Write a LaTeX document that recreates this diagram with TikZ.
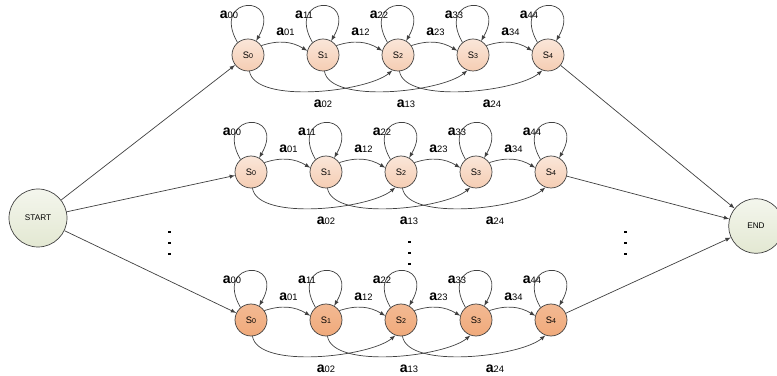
\documentclass[tikz,border=0pt]{standalone}
\usepackage{fontspec}
\setmainfont{Liberation Sans}
\usetikzlibrary{calc}

\definecolor{stpale}{HTML}{F5CDB3}
\definecolor{stdeep}{HTML}{F0AA7B}
\definecolor{endfill}{HTML}{E3E8D2}
\definecolor{edgegray}{HTML}{404040}

\newcommand{\trans}[1]{{\fontsize{12}{12}\selectfont\bfseries a}{\fontsize{8}{8}\selectfont #1}}
\newcommand{\stname}[1]{S{\fontsize{6}{6}\selectfont #1}}

\begin{document}
\begin{tikzpicture}[x=0.03cm,y=0.03cm,>=latex,line width=0.6pt,
  state/.style={circle,draw=edgegray,minimum size=0.96cm,inner sep=0pt,font=\fontsize{8}{8}\selectfont},
  term/.style={circle,draw=edgegray,inner sep=0pt,top color=endfill!40!white,bottom color=endfill,font=\fontsize{7}{7}\selectfont},
  lbl/.style={inner sep=0pt},
  link/.style={draw=edgegray,->}]
  \useasboundingbox (0,0) rectangle (777,-376);

  \node[term,minimum size=1.74cm] (start) at (38,-218) {START};
  \node[term,minimum size=1.64cm] (end) at (756,-226) {END};

  % one chain per row
  \foreach \r/\y/\dx/\c/\t in {1/55/0/stpale/50, 2/172/3/stpale/50, 3/320/3/stdeep/82} {
    \foreach \i in {0,...,4} {
      \node[state,top color=\c!\t!white,bottom color=\c] (s\r\i) at ({248+\dx+75*\i},-\y) {\stname{\i}};
      \draw[link] (s\r\i.130) .. controls +(120:55) and +(60:55) .. (s\r\i.60);
      \node[lbl] (l\r\i\i) at ($(s\r\i)+(-19,40)$) {\trans{\i\i}};
    }
    \foreach \i [evaluate=\i as \j using int(\i+1)] in {0,...,3} {
      \draw[link] (s\r\i.35) to[bend left=25] (s\r\j.165);
      \node[lbl] (l\r\i\j) at ($(s\r\i)!0.5!(s\r\j)+(0,23)$) {\trans{\i\j}};
    }
    \foreach \i/\sh [evaluate=\i as \j using int(\i+2)] in {0/0,1/8,2/19} {
      \draw[link] (s\r\i.-85) to[out=-80,in=-140,looseness=0.6] (s\r\j.-110);
      \node[lbl] (l\r\i\j) at ($(s\r\i)!0.5!(s\r\j)+(\sh,-49)$) {\trans{\i\j}};
    }
    \draw[link] (start) -- (s\r0);
    \draw[link] (s\r4) -- (end);
  }

  % vertical dots
  \foreach \x/\y in {168/231,168/242,168/253,408/241,408/252,408/263,624/231,624/242,624/253}
    \fill (\x,-\y) rectangle +(2.5,-2.5);
\end{tikzpicture}
\end{document}
